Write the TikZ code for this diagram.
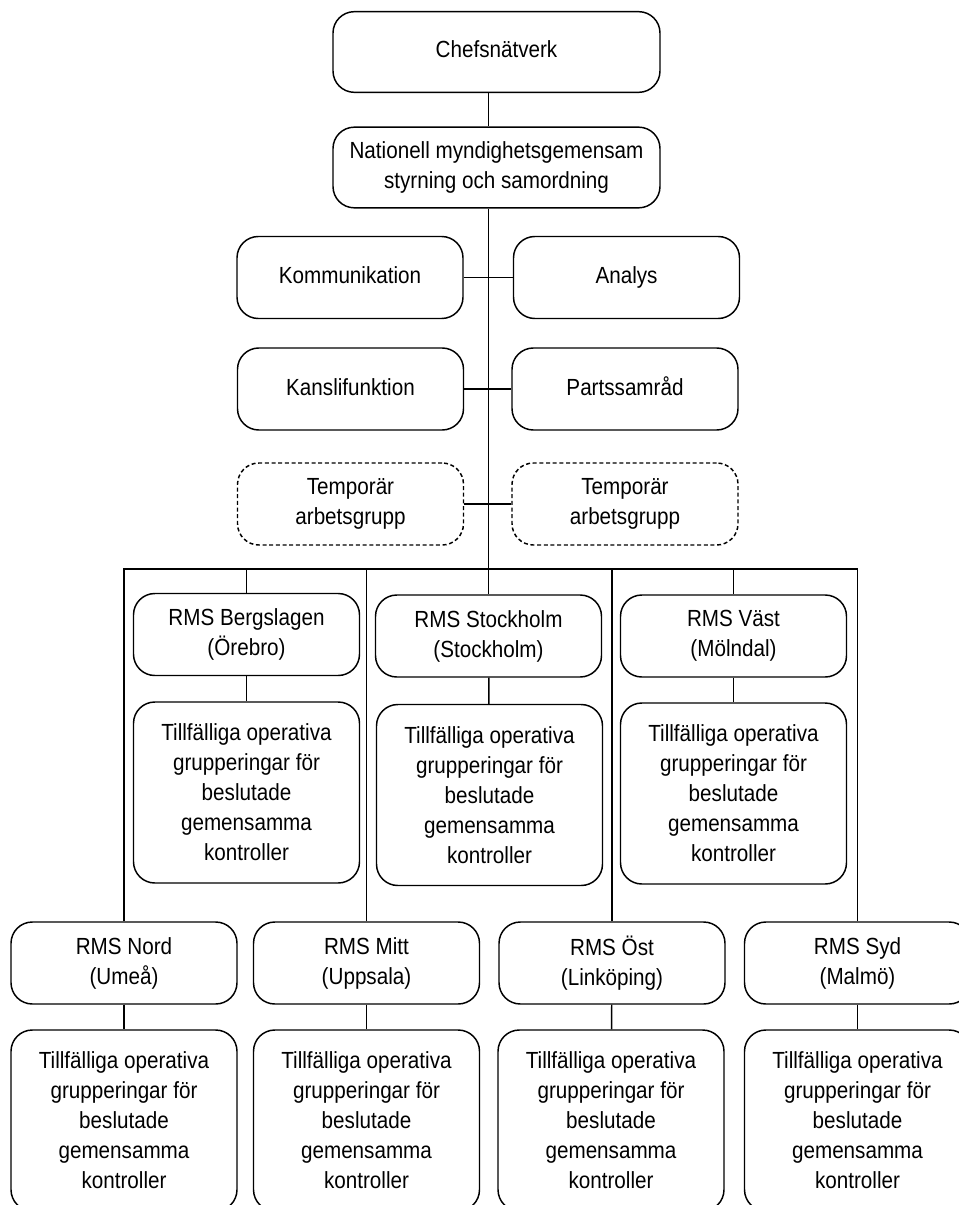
\documentclass[tikz,border=0pt]{standalone}
\usepackage{fontspec}
\setmainfont[FakeStretch=0.885]{Liberation Sans}
\usepackage{tikz}
\usetikzlibrary{positioning,calc}
\newcommand{\opgrupp}{Tillfälliga operativa\\grupperingar för\\beslutade\\gemensamma\\kontroller}

\begin{document}
\begin{tikzpicture}[
    x=0.75pt, y=-0.75pt,
    unit/.style={rectangle, draw=black, line width=1.1pt, rounded corners=16pt,
                 minimum width=169.5pt, minimum height=61.5pt, inner sep=0pt,
                 align=center, font=\fontsize{17.5pt}{22.5pt}\selectfont},
    oneline/.style={text height=13pt, text depth=4pt},
    wideunit/.style={unit, minimum width=245.25pt, minimum height=60.5pt},
    tempunit/.style={unit, dashed, dash pattern=on 3pt off 2pt},
    opunit/.style={unit, minimum height=135.75pt},
    link/.style={line width=1.1pt}
]
\useasboundingbox (0,0) rectangle (959,1205);
\clip (0,0) rectangle (959,1205);

% National level
\node[wideunit, oneline] (chef) at (496.5, 52) {Chefsnätverk};
\node[wideunit] (nat) at (496.5, 167.5) {Nationell myndighetsgemensam\\styrning och samordning};

% Support functions
\node[unit, oneline] (komm) at (350, 277.5) {Kommunikation};
\node[unit, oneline] (analys) at (626.5, 277.5) {Analys};
\node[unit, oneline] (kansli) at (350.5, 389) {Kanslifunktion};
\node[unit, oneline] (parts) at (625, 389) {Partssamråd};
\node[tempunit] (tempL) at (350.5, 504) {Temporär\\arbetsgrupp};
\node[tempunit] (tempR) at (625, 504) {Temporär\\arbetsgrupp};

% Regions, upper row
\node[unit] (berg) at (246.5, 634.5) {RMS Bergslagen\\(Örebro)};
\node[unit] (stock) at (488.5, 636) {RMS Stockholm\\(Stockholm)};
\node[unit] (vast) at (733.5, 636) {RMS Väst\\(Mölndal)};
\node[opunit] (bergop) at (246.5, 792.5) {\opgrupp};
\node[opunit] (stockop) at (489.5, 795) {\opgrupp};
\node[opunit] (vastop) at (733.5, 793.5) {\opgrupp};

% Regions, lower row
\node[unit] (nord) at (124, 963) {RMS Nord\\(Umeå)};
\node[unit] (mitt) at (366.5, 963) {RMS Mitt\\(Uppsala)};
\node[unit] (ost) at (612, 963) {RMS Öst\\(Linköping)};
\node[unit] (syd) at (857.5, 963) {RMS Syd\\(Malmö)};
\node[opunit] (nordop) at (124, 1120.5) {\opgrupp};
\node[opunit] (mittop) at (366.5, 1120.5) {\opgrupp};
\node[opunit] (ostop) at (611, 1120.5) {\opgrupp};
\node[opunit] (sydop) at (857.5, 1120.5) {\opgrupp};

\coordinate (bus) at (0, 569);

% Spine
\draw[link] (chef.south -| stock.north) -- (nat.north -| stock.north);
\draw[link] (nat.south -| stock.north) -- (stock.north);
\draw[link] (komm) -- (analys);
\draw[link] (kansli) -- (parts);
\draw[link] (tempL) -- (tempR);

% Regional bus
\draw[link] (nord.north) -- (nord.north |- bus) -- (syd.north |- bus) -- (syd.north);
\draw[link] (berg.north) -- (berg.north |- bus);
\draw[link] (mitt.north) -- (mitt.north |- bus);
\draw[link] (ost.north) -- (ost.north |- bus);
\draw[link] (vast.north) -- (vast.north |- bus);

% Operative groups
\draw[link] (berg) -- (bergop);
\draw[link] (stock) -- (stockop);
\draw[link] (vast) -- (vastop);
\draw[link] (nord) -- (nordop);
\draw[link] (mitt) -- (mittop);
\draw[link] (ost) -- (ostop);
\draw[link] (syd) -- (sydop);

\end{tikzpicture}
\end{document}
